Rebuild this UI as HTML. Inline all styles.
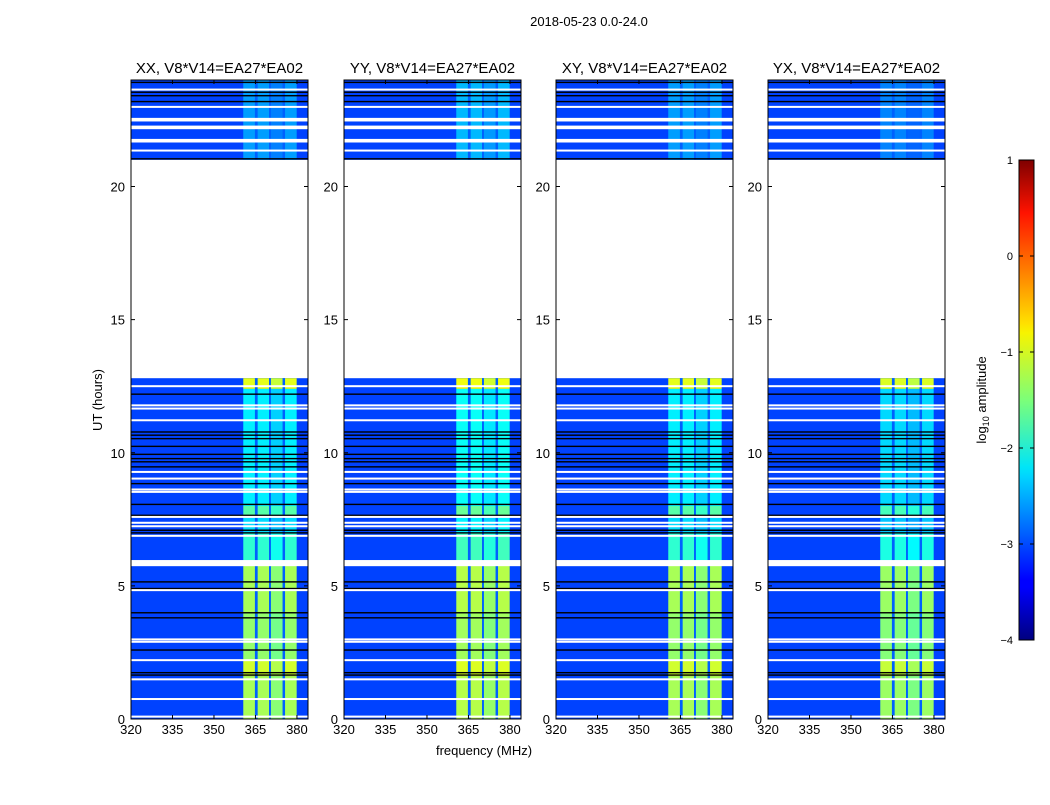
<!DOCTYPE html>
<html><head><meta charset="utf-8"><style>
body{margin:0;background:#fff;font-family:"Liberation Sans","DejaVu Sans",sans-serif}
svg text{font-family:"Liberation Sans","DejaVu Sans",sans-serif}
</style></head><body>
<svg id="c" width="1050" height="800" xmlns="http://www.w3.org/2000/svg">
<text x="589" y="26" font-size="13" text-anchor="middle">2018-05-23 0.0-24.0</text>
<text x="0" y="0" font-size="13" text-anchor="middle" transform="translate(102,400) rotate(-90)">UT (hours)</text>
<text x="484" y="755" font-size="13" text-anchor="middle">frequency (MHz)</text>
<text font-size="13" text-anchor="middle" transform="translate(986,400) rotate(-90)">log<tspan font-size="9" dy="3">10</tspan><tspan dy="-3"> amplitude</tspan></text>
<defs><linearGradient id="jet" x1="0" y1="1" x2="0" y2="0">
<stop offset="0" stop-color="#00007f"/><stop offset="0.11" stop-color="#0000ff"/><stop offset="0.125" stop-color="#0000ff"/><stop offset="0.34" stop-color="#00d4ff"/><stop offset="0.36" stop-color="#00e5f7"/><stop offset="0.5" stop-color="#7cff79"/><stop offset="0.64" stop-color="#f7f400"/><stop offset="0.66" stop-color="#ffe000"/><stop offset="0.89" stop-color="#ff1300"/><stop offset="1" stop-color="#7f0000"/></linearGradient></defs>
<g id="panels"></g>
<rect x="1019" y="160" width="15" height="480" fill="url(#jet)" stroke="#000" stroke-width="1"/>
<g id="cb"></g>
</svg>
<script>
const panelTitles=["XX, V8*V14=EA27*EA02","YY, V8*V14=EA27*EA02","XY, V8*V14=EA27*EA02","YX, V8*V14=EA27*EA02"];
const panelLeft=[131,344,556,768];
const xTicks=[320,335,350,365,380];
const yTicks=[0,5,10,15,20];
const cbTicks=[1,0,-1,-2,-3,-4];
const dataSegments=[[0,12.8],[21,24]];
const bandColumns=[[360.6,364.8],[365.8,369.9],[370.6,374.8],[375.7,379.9]];
const bandBlocks=[[0,1.6,-1.3],[1.6,2.2,-1.1],[2.2,4.0,-1.4],[4.0,5.75,-1.3],[5.95,7.0,-1.9],[7.0,7.6,-2.3],[7.6,8.0,-1.7],[8.0,12.4,-2.2],[12.4,12.8,-1.0],[21,24,-2.6]];
const backgroundLevel=-3.05;
const columnGapLevel=-2.9;
const whiteLines=[0.09,0.75,1.49,2.21,2.90,2.99,4.84,6.88,7.24,7.37,7.59,8.53,8.62,9.03,9.28,11.22,11.66,11.78,12.50,21.35,21.69,21.75,22.19,22.25,22.48,22.54,22.99,23.64];
const blackLines=[1.65,1.74,2.59,3.80,3.99,4.90,5.15,6.99,7.09,7.65,8.06,8.84,9.47,9.66,9.78,9.94,10.24,10.53,10.66,10.78,12.2,21.04,23.19,23.41,23.54,23.91];
const wideGap=[5.74,5.97];
const panelScale=[1.0,0.95,1.0,1.05];

const NS="http://www.w3.org/2000/svg";
const top0=80,bot0=719,W=177;
function yS(t){return bot0-(t/24)*(bot0-top0);}
function xS(f,l){return l+(f-320)/64*W;}
function jet(v){let x=(v+4)/5;x=Math.max(0,Math.min(1,x));
 const r=Math.max(0,Math.min(1,1.5-Math.abs(4*x-3))),g=Math.max(0,Math.min(1,1.5-Math.abs(4*x-2))),b=Math.max(0,Math.min(1,1.5-Math.abs(4*x-1)));
 return `rgb(${Math.round(r*255)},${Math.round(g*255)},${Math.round(b*255)})`;}
function mk(tag,attrs,parent){const e=document.createElementNS(NS,tag);for(const k in attrs)e.setAttribute(k,attrs[k]);parent.appendChild(e);return e;}
const P=document.getElementById('panels');
panelLeft.forEach((L,pi)=>{
 const g=mk('g',{},P);
 
 
 dataSegments.forEach(s=>{
  const r=mk('rect',{x:L,y:yS(s[1]),width:W,height:yS(s[0])-yS(s[1]),fill:jet(backgroundLevel)},g);
  
  
 });
 bandBlocks.forEach(b=>{
  const v=b[2]*panelScale[pi];
  const gr=mk('rect',{x:xS(bandColumns[0][0],L),y:yS(b[1]),width:xS(bandColumns[3][1],L)-xS(bandColumns[0][0],L),height:yS(b[0])-yS(b[1]),fill:jet(columnGapLevel)},g);
  
  
  bandColumns.forEach((c,ci)=>{
   const r=mk('rect',{x:xS(c[0],L),y:yS(b[1]),width:xS(c[1],L)-xS(c[0],L),height:yS(b[0])-yS(b[1]),fill:jet(v-(ci==2?0.15:0))},g);
   
   
  });
 });
 blackLines.forEach(t=>{const r=mk('rect',{x:L,y:yS(t)-0.7,width:W,height:1.4,fill:'#000'},g);
  });
 whiteLines.forEach(t=>{const r=mk('rect',{x:L,y:yS(t)-1,width:W,height:2,fill:'#fff'},g);
  });
 const wg=mk('rect',{x:L,y:yS(wideGap[1]),width:W,height:yS(wideGap[0])-yS(wideGap[1]),fill:'#fff'},g);
 
 const fr=mk('rect',{x:L,y:top0,width:W,height:bot0-top0,fill:'none',stroke:'#000','stroke-width':1},g);
 
 const ti=mk('text',{x:L+W/2,y:73,'font-size':15,'text-anchor':'middle'},g);ti.textContent=panelTitles[pi];
 
 xTicks.forEach(f=>{const x=xS(f,L);
  mk('line',{x1:x,x2:x,y1:bot0,y2:bot0-4,stroke:'#000'},g);mk('line',{x1:x,x2:x,y1:top0,y2:top0+4,stroke:'#000'},g);
  const t=mk('text',{x:x,y:bot0+15,'font-size':13,'text-anchor':'middle'},g);t.textContent=f;
  });
 yTicks.forEach(v=>{const y=yS(v);
  mk('line',{x1:L,x2:L+4,y1:y,y2:y,stroke:'#000'},g);mk('line',{x1:L+W,x2:L+W-4,y1:y,y2:y,stroke:'#000'},g);
  const t=mk('text',{x:L-6,y:y+5,'font-size':13,'text-anchor':'end'},g);t.textContent=v;
  });
});
const CB=document.getElementById('cb');
cbTicks.forEach(v=>{const y=640-(v+4)/5*480;
 mk('line',{x1:1019,x2:1023,y1:y,y2:y,stroke:'#000'},CB);mk('line',{x1:1034,x2:1030,y1:y,y2:y,stroke:'#000'},CB);
 const t=mk('text',{x:1013,y:y+4,'font-size':11,'text-anchor':'end'},CB);t.textContent=v<0?'\u2212'+(-v):v;
 });
</script>
</body></html>
